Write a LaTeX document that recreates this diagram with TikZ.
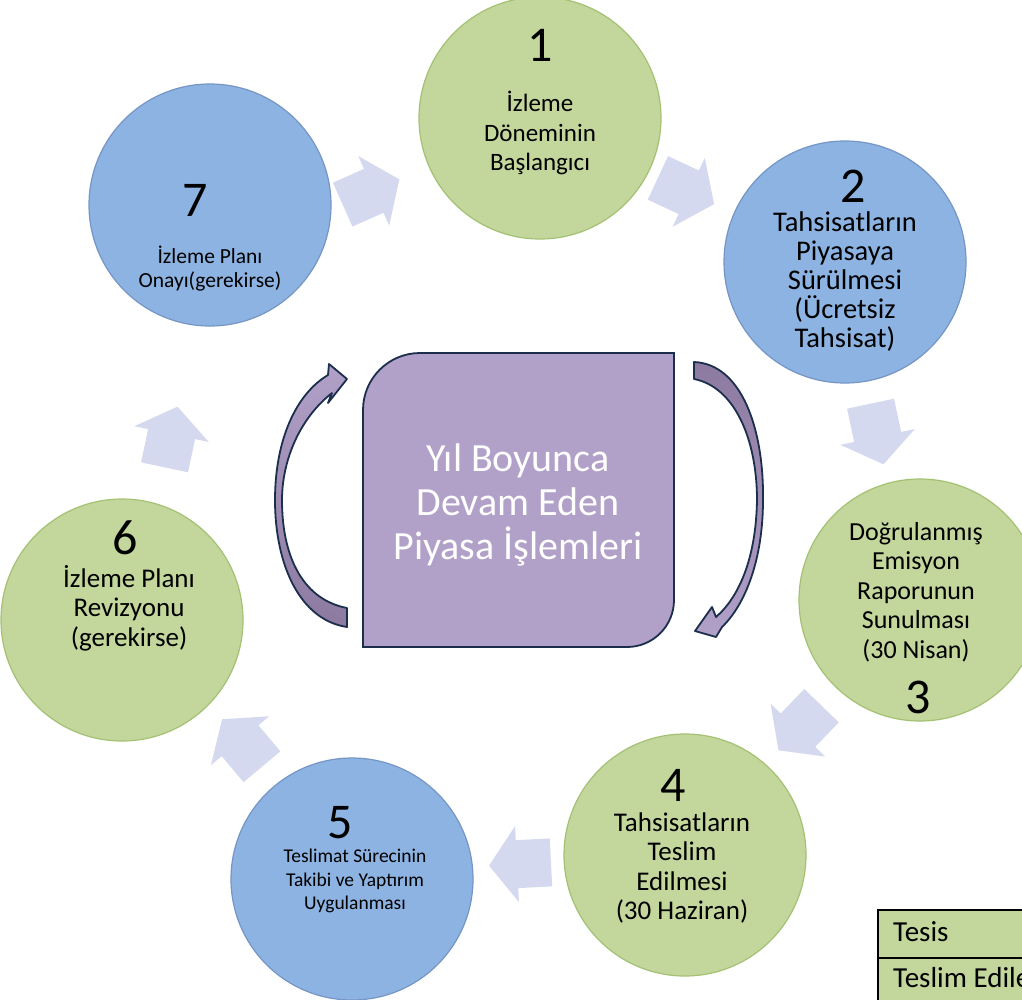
\documentclass[tikz,border=0pt]{standalone}
\usepackage{fontspec}
\setmainfont{Carlito}
\definecolor{gfill}{HTML}{C3D69B}
\definecolor{gline}{HTML}{A4C174}
\definecolor{bfill}{HTML}{8DB3E2}
\definecolor{bline}{HTML}{7596C4}
\definecolor{pfill}{HTML}{B1A0C7}
\definecolor{pdark}{HTML}{8C7AA0}
\definecolor{navy}{HTML}{1B2F4D}
\definecolor{afill}{HTML}{D4D9EF}
\begin{document}
\begin{tikzpicture}[x=1pt,y=-1pt,
  gcirc/.style={circle,minimum size=242pt,inner sep=0pt,fill=gfill,draw=gline,line width=1.2pt},
  bcirc/.style={circle,minimum size=242pt,inner sep=0pt,fill=bfill,draw=bline,line width=1.2pt},
  lbl/.style={align=center,inner sep=0pt},
  num/.style={font=\fontsize{50}{50}\selectfont,inner sep=0pt,text height=32pt,text depth=0pt},
  blk/.style={fill=afill,draw=none},
  curv/.style={draw=navy,line width=1.8pt,line join=round}]
\clip (0,0) rectangle (1022,999);
\fill[white] (0,0) rectangle (1022,999);

% block arrows
\newcommand{\blockarrow}[3]{%
  \begin{scope}[shift={(#1,#2)},rotate=#3]
    \path[blk] (-31,-24) -- (3,-24) -- (3,-38) -- (31,0) -- (3,38) -- (3,24) -- (-31,24) -- cycle;
  \end{scope}}
\blockarrow{371}{192}{24}
\blockarrow{686}{191}{-25}
\blockarrow{877}{434}{-78}
\blockarrow{800}{728}{-134}
\blockarrow{520}{864}{183}
\blockarrow{242}{743}{130}
\blockarrow{171}{437}{78}

% circles
\node[gcirc] (c1) at (540,118) {};
\node[bcirc] (c2) at (845,262) {};
\node[gcirc] (c3) at (920,600) {};
\node[gcirc] (c4) at (685,855) {};
\node[bcirc] (c5) at (352,879) {};
\node[gcirc] (c6) at (122,620) {};
\node[bcirc] (c7) at (210,205) {};

% numbers
\node[num] (n1) at (540,45) {1};
\node[num] (n2) at (853,186) {2};
\node[num] (n3) at (918,697) {3};
\node[num] (n4) at (673,785) {4};
\node[num] (n5) at (340,822) {5};
\node[num] (n6) at (125,538) {6};
\node[num] (n7) at (195,200) {7};

% labels
\node[lbl,font=\fontsize{25}{29.5}\selectfont] (t1) at (540,133) {İzleme\\Döneminin\\Başlangıcı};
\node[lbl,font=\fontsize{28.5}{29}\selectfont] (t2) at (845,282) {Tahsisatların\\Piyasaya\\Sürülmesi\\(Ücretsiz\\Tahsisat)};
\node[lbl,font=\fontsize{26}{29.5}\selectfont] (t3) at (916,592) {Doğrulanmış\\Emisyon\\Raporunun\\Sunulması\\(30 Nisan)};
\node[lbl,font=\fontsize{27}{29.5}\selectfont] (t4) at (682,868) {Tahsisatların\\Teslim\\Edilmesi\\(30 Haziran)};
\node[lbl,font=\fontsize{19.5}{23.5}\selectfont] (t5) at (355,881) {Teslimat Sürecinin\\Takibi ve Yaptırım\\Uygulanması};
\node[lbl,font=\fontsize{27}{29.5}\selectfont] (t6) at (129,608) {İzleme Planı\\Revizyonu\\(gerekirse)};
\node[lbl,font=\fontsize{21.5}{24}\selectfont] (t7) at (210,269) {İzleme Planı\\Onayı(gerekirse)};

% center box
\draw[fill=pfill,draw=navy,line width=1.8pt]
  (363,410) arc[start angle=180,end angle=270,radius=57] -- (674,353) -- (674,600)
  arc[start angle=0,end angle=90,radius=47] -- (363,647) -- cycle;
\node[font=\fontsize{40}{44}\selectfont,align=center,text=white,inner sep=0pt] (ct) at (518,505)
  {Yıl Boyunca\\Devam Eden\\Piyasa İşlemleri};

% curved arrows
\path[curv,top color=pdark,bottom color=pfill]
  (694,362) -- (694,379)
  .. controls (735,387) and (757,440) .. (757,500)
  .. controls (756,560) and (738,598) .. (716,617)
  -- (712,607) -- (695,631) -- (716,637) -- (722,627)
  .. controls (745,605) and (763,560) .. (763,500)
  .. controls (764,430) and (742,364) .. (694,362) -- cycle;
\path[curv,top color=pfill,bottom color=pdark]
  (347,627) -- (347,608)
  .. controls (305,600) and (282,560) .. (282,500)
  .. controls (282,460) and (300,418) .. (332,393)
  -- (328,403) -- (347,379) -- (329,364) -- (328,375)
  .. controls (296,394) and (275,440) .. (275,500)
  .. controls (275,565) and (300,620) .. (347,627) -- cycle;

% legend
\draw[fill=gfill,line width=2.5pt] (878,910) rectangle (1040,1010);
\draw[line width=2.5pt] (878,958) -- (1040,958);
\node[anchor=west,font=\fontsize{29}{30}\selectfont,inner sep=0pt] (lg1) at (893,932) {Tesis};
\node[anchor=west,font=\fontsize{29}{30}\selectfont,inner sep=0pt] (lg2) at (893,978) {Teslim Edilen};
\end{tikzpicture}
\end{document}
